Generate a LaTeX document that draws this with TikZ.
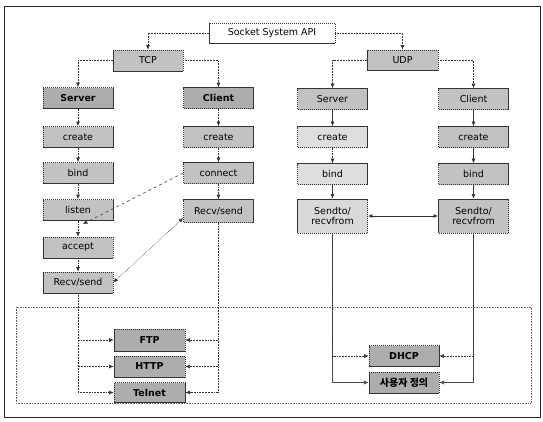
\documentclass[tikz,border=0pt]{standalone}
\usepackage{fontspec}
\setmainfont{DejaVu Sans}
\newfontfamily\korfont{Noto Sans CJK KR}
\usetikzlibrary{arrows.meta}
\begin{document}
\begin{tikzpicture}[x=1pt,y=-1pt,
  box/.style={draw=black!80, dash pattern=on 1.5pt off 0.5pt, line width=0.7pt,
    fill=black!24, minimum width=70pt, minimum height=21pt, inner sep=0pt,
    font=\fontsize{9.5}{10.5}\selectfont},
  boldbox/.style={box, fill=black!32, font=\fontsize{9.5}{10.5}\selectfont\bfseries},
  lightbox/.style={box, fill=black!13},
  tallbox/.style={box, minimum height=34pt, align=center},
  tip/.style={},
  conn/.style={draw=black!80, line width=0.55pt, densely dotted,
    -{Latex[length=4.5pt,width=4pt]}},
  sconn/.style={conn, solid},
  dconn/.style={conn, {Latex[length=4.5pt,width=4pt]}-{Latex[length=4.5pt,width=4pt]}}
]
\useasboundingbox (0,0) rectangle (543,421);
% frame
\draw[black!85, line width=1pt] (4,6) rectangle (540,417);
\draw[black!60, densely dotted, line width=0.6pt] (16,307) rectangle (531,403);

% top
\node[box, fill=white, minimum width=126pt, minimum height=20pt] (sock) at (272,33) {Socket System API};
\node[box] (tcp) at (148,60.5) {TCP};
\node[box, minimum width=71pt, minimum height=20pt] (udp) at (402.5,60) {UDP};

% TCP server column
\node[boldbox] (srv1) at (78,98) {Server};
\node[box] (cre1) at (78,137) {create};
\node[box] (bnd1) at (78,173) {bind};
\node[box] (lis1) at (78,210) {listen};
\node[box] (acc1) at (78,247.5) {accept};
\node[box] (rs1) at (78,282.5) {Recv/send};

% TCP client column
\node[boldbox] (cli1) at (218.5,98) {Client};
\node[box] (cre2) at (218.5,137) {create};
\node[box] (con2) at (218.5,173) {connect};
\node[box, minimum height=23pt] (rs2) at (218.5,211) {Recv/send};

% UDP server column
\node[box] (srv3) at (332.5,99) {Server};
\node[lightbox] (cre3) at (332.5,137) {create};
\node[lightbox] (bnd3) at (332.5,174) {bind};
\node[tallbox, fill=black!15] (snd3) at (332.5,216) {Sendto/\\recvfrom};

% UDP client column
\node[box] (cli4) at (473.5,99) {Client};
\node[box] (cre4) at (473.5,137) {create};
\node[box] (bnd4) at (473.5,174) {bind};
\node[tallbox] (snd4) at (473.5,216) {Sendto/\\recvfrom};

% protocols
\node[boldbox, minimum width=71pt, minimum height=22pt] (ftp) at (149.5,340) {FTP};
\node[boldbox, minimum width=71pt] (http) at (149.5,366.5) {HTTP};
\node[boldbox, minimum width=71pt, minimum height=20pt] (tel) at (149.5,392.5) {Telnet};
\node[boldbox] (dhcp) at (404,356) {DHCP};
\node[boldbox, font=\fontsize{10}{11}\selectfont\korfont\bfseries] (kor) at (404,382.5) {사용자 정의};

% top connectors
\draw[conn] (sock.west) -| (tcp.north);
\draw[conn] (sock.east) -| (udp.north);
\draw[conn] (tcp.west) -| (srv1.north);
\draw[conn] (tcp.east) -| (cli1.north);
\draw[conn] (udp.west) -| (srv3.north);
\draw[conn] (udp.east) -| (cli4.north);

% TCP server chain
\draw[conn] (srv1) -- (cre1);
\draw[conn] (cre1) -- (bnd1);
\draw[conn] (bnd1) -- (lis1);
\draw[conn] (lis1) -- (acc1);
\draw[conn] (acc1) -- (rs1);
% TCP client chain
\draw[conn] (cli1) -- (cre2);
\draw[conn] (cre2) -- (con2);
\draw[conn] (con2) -- (rs2);
% UDP chains
\draw[sconn] (srv3) -- (cre3);
\draw[conn] (cre3) -- (bnd3);
\draw[sconn] (bnd3) -- (snd3);
\draw[sconn] (cli4) -- (cre4);
\draw[sconn] (cre4) -- (bnd4);
\draw[sconn] (bnd4) -- (snd4);

% cross connectors
\coordinate (lisin) at (83,224);
\draw[conn, dashed] (con2.west) -- (lisin);
\draw[dconn] ([yshift=-7pt]rs2.west) -- (rs1.east);
\draw[dconn, solid, line width=0.9pt] (snd3.east) -- (snd4.west);

% TCP to protocols
\draw[conn] (rs1.south) |- (ftp.west);
\draw[conn] (rs1.south) |- (http.west);
\draw[conn] (rs1.south) |- (tel.west);
\draw[conn] (rs2.south) |- (ftp.east);
\draw[conn] (rs2.south) |- (http.east);
\draw[conn] (rs2.south) |- (tel.east);

% UDP to protocols
\draw[sconn, draw=black!70] (snd3.south) |- (kor.west);
\draw[conn] (snd3.south) |- (dhcp.west);
\draw[sconn, draw=black!70] (snd4.south) |- (kor.east);
\draw[conn] (snd4.south) |- (dhcp.east);
\end{tikzpicture}
\end{document}
